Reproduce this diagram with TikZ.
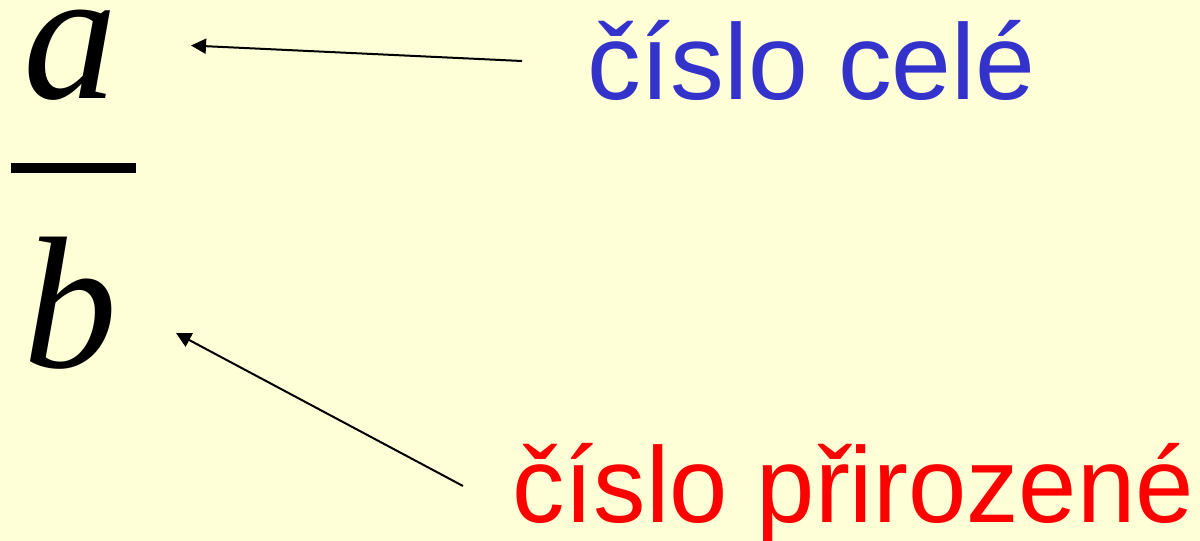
\documentclass[tikz,border=0pt]{standalone}
\usepackage{fontspec}
\setmainfont{Liberation Sans}
\newfontfamily\tnr{Liberation Serif}
\usetikzlibrary{arrows.meta}
\definecolor{bg}{HTML}{FFFFD7}
\definecolor{myblue}{HTML}{3333CC}
\definecolor{myred}{HTML}{FF0000}
\tikzset{
  lbl/.style={inner sep=0pt, anchor=base west, font=\fontsize{107.5}{120}\selectfont},
  var/.style={inner sep=0pt, anchor=base west, font=\tnr\itshape\fontsize{188}{210}\selectfont},
  arr/.style={line width=2pt, -{Triangle[length=15pt,width=15pt]}}
}
\begin{document}
\begin{tikzpicture}[x=1pt,y=-1pt]
\fill[bg] (0,0) rectangle (1200,541);
\useasboundingbox (0,0) rectangle (1200,541);
\node[var] (a) at (23,98) {a};
\node[var] (b) at (23,367) {b};
\fill (11,163) rectangle (136,173);
\node[lbl, text=myblue] (cele) at (587,99) {číslo celé};
\node[lbl, text=myred, xscale=0.975] (prir) at (512,522) {číslo přirozené};
\coordinate (t1) at (522,61);
\coordinate (h1) at (191,45.5);
\coordinate (t2) at (463,486);
\coordinate (h2) at (176,333);
\draw[arr] (t1) -- (h1);
\draw[arr] (t2) -- (h2);
\end{tikzpicture}
\end{document}
